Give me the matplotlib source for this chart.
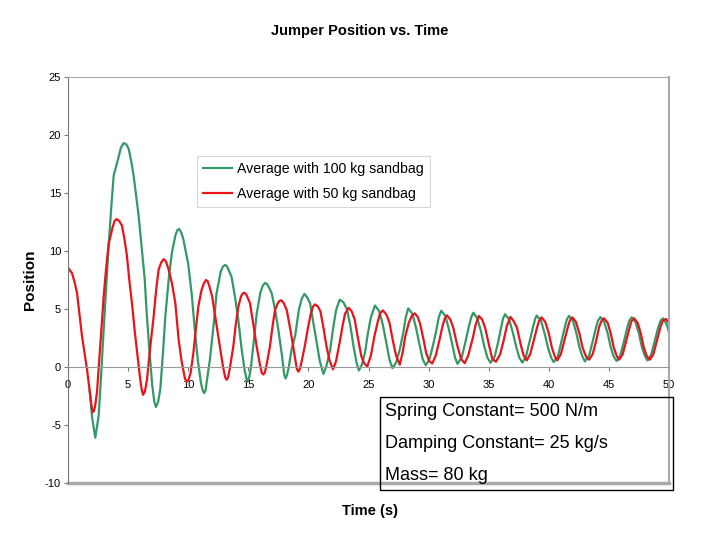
import matplotlib
matplotlib.use("Agg")
import matplotlib.pyplot as plt
from matplotlib.patches import Rectangle

plt.rcParams['font.family'] = ['Liberation Sans', 'DejaVu Sans']
plt.rcParams['axes.unicode_minus'] = False

# Average with 100 kg sandbag (green)
t_100 = [1.8, 2.0, 2.27, 2.55, 2.75, 2.97, 3.18, 3.38, 3.6, 3.8, 4.16, 4.4, 4.63, 4.85, 5.05, 5.25, 5.46, 5.65,
         5.88, 6.1, 6.38, 6.55, 6.77, 7.0, 7.18, 7.32, 7.5, 7.68, 7.9, 8.1, 8.4, 8.65, 8.95,
         9.1, 9.24, 9.42, 9.6, 10.0, 10.3, 10.55, 10.8, 11.05, 11.2, 11.33, 11.45, 11.55, 11.8, 12.1, 12.36, 12.7,
         12.88, 13.06, 13.22, 13.35, 13.6, 13.9, 14.17, 14.45, 14.7, 14.85, 14.95, 15.05, 15.2, 15.45, 15.7, 16.0,
         16.2, 16.39, 16.55, 16.7, 16.95, 17.25, 17.5, 17.8, 17.98, 18.1, 18.22, 18.35, 18.6, 18.9, 19.2, 19.45,
         19.67, 19.9, 20.14, 20.4, 20.7, 20.95, 21.25, 21.5, 21.8, 22.05, 22.3,
         22.6, 22.9, 23.2, 23.5, 23.75, 24.0, 24.2, 24.45, 24.7, 24.95, 25.2,
         25.54, 25.9, 26.2, 26.5, 26.75, 27.0, 27.3, 27.6, 27.9, 28.1,
         28.3, 28.65, 28.95, 29.25, 29.5, 29.76, 30.05, 30.35, 30.65, 30.85,
         31.05, 31.4, 31.7, 32.0, 32.2, 32.4, 32.75, 33.05, 33.35, 33.55,
         33.72, 34.05, 34.35, 34.65, 34.9, 35.15, 35.5, 35.8, 36.05, 36.2,
         36.36, 36.7, 37.0, 37.3, 37.55, 37.8, 38.1, 38.4, 38.7, 38.85,
         38.99, 39.35, 39.65, 39.95, 40.2, 40.4, 40.75, 41.05, 41.35, 41.5,
         41.68, 42.0, 42.3, 42.55, 42.8, 43.0, 43.35, 43.65, 43.95, 44.1,
         44.3, 44.6, 44.9, 45.15, 45.4, 45.64, 45.95, 46.25, 46.55, 46.7,
         46.9, 47.2, 47.5, 47.75, 48.0, 48.2, 48.5, 48.8, 49.1, 49.3,
         49.5, 49.8, 50.0]
v_100 = [-2.0, -4.3, -6.1, -4.2, -0.8, 3.3, 7.0, 10.4, 13.8, 16.5, 17.9, 18.9, 19.3, 19.2, 18.8, 17.8, 16.5, 14.9,
         13.0, 10.6, 7.6, 4.6, 1.5, -1.5, -3.0, -3.45, -3.0, -1.9, 1.2, 4.4, 7.8, 9.9, 11.4,
         11.8, 11.9, 11.6, 11.0, 8.9, 6.2, 3.2, 0.6, -1.3, -2.0, -2.25, -2.0, -1.2, 0.6, 3.5, 6.35, 8.2,
         8.65, 8.8, 8.7, 8.4, 7.8, 6.0, 4.05, 1.5, -0.3, -1.0, -1.25, -1.0, -0.2, 2.2, 4.6, 6.4,
         7.0, 7.25, 7.15, 6.9, 6.35, 4.8, 3.2, 1.0, -0.6, -1.0, -0.7, -0.1, 1.5, 2.7, 4.9, 5.9,
         6.3, 6.0, 5.5, 3.9, 2.1, 0.5, -0.6, 0.1, 1.4, 3.3, 4.9,
         5.8, 5.6, 5.0, 3.5, 1.8, 0.4, -0.3, 0.2, 1.2, 2.9, 4.3,
         5.3, 4.8, 3.6, 2.0, 0.6, -0.1, 0.4, 1.5, 3.0, 4.3,
         5.05, 4.6, 3.4, 1.9, 0.7, 0.15, 0.6, 1.8, 3.2, 4.3,
         4.85, 4.4, 3.2, 1.8, 0.8, 0.28, 0.8, 2.1, 3.5, 4.3,
         4.68, 4.2, 3.1, 1.7, 0.8, 0.36, 0.9, 2.2, 3.5, 4.2,
         4.55, 4.1, 3.0, 1.7, 0.8, 0.38, 0.9, 2.2, 3.5, 4.1,
         4.43, 4.0, 2.9, 1.6, 0.8, 0.43, 0.9, 2.2, 3.5, 4.1,
         4.4, 4.0, 2.9, 1.7, 0.9, 0.49, 0.95, 2.2, 3.5, 4.0,
         4.3, 3.9, 2.9, 1.7, 0.9, 0.52, 1.0, 2.2, 3.5, 4.0,
         4.28, 3.9, 2.9, 1.7, 0.95, 0.57, 1.0, 2.2, 3.4, 4.0,
         4.2, 3.7, 3.0]

# Average with 50 kg sandbag (red)
t_50 = [0.0, 0.33, 0.55, 0.75, 0.95, 1.16, 1.38, 1.58, 1.8, 1.95, 2.05, 2.15, 2.25, 2.41, 2.65, 2.97, 3.18, 3.38, 3.7,
        3.88, 4.05, 4.25, 4.49, 4.7, 4.9, 5.1, 5.32, 5.55, 5.82, 6.0, 6.14, 6.24, 6.4, 6.57, 6.85, 7.13, 7.35, 7.54, 7.75,
        7.96, 8.15, 8.37, 8.65, 8.93, 9.2, 9.45, 9.73, 9.88, 10.0, 10.2, 10.43, 10.64, 10.84, 11.1, 11.3,
        11.48, 11.62, 11.75, 12.0, 12.3, 12.64, 12.9, 13.08, 13.2, 13.32, 13.45, 13.75, 13.95, 14.17, 14.4, 14.55,
        14.67, 14.8, 14.9, 15.14, 15.4, 15.7, 15.95, 16.12, 16.25, 16.37, 16.5, 16.8, 17.0, 17.22, 17.45, 17.6,
        17.75, 17.95, 18.2, 18.45, 18.7, 18.9, 19.05, 19.16, 19.28, 19.4, 19.7, 19.95, 20.2, 20.38,
        20.55, 20.8, 21.0, 21.25, 21.5, 21.75, 22.05, 22.3, 22.6, 22.85, 23.05,
        23.35, 23.6, 23.85, 24.1, 24.4, 24.65, 24.9, 25.2, 25.5, 25.75, 25.95,
        26.2, 26.5, 26.75, 27.0, 27.3, 27.6, 27.85, 28.05, 28.35, 28.6,
        28.85, 29.1, 29.3, 29.55, 29.8, 30.05, 30.3, 30.6, 30.9, 31.15, 31.35,
        31.53, 31.8, 32.05, 32.35, 32.7, 33.0, 33.3, 33.7, 33.9,
        34.18, 34.45, 34.7, 35.0, 35.3, 35.6, 35.95, 36.25, 36.5,
        36.8, 37.05, 37.35, 37.65, 37.9, 38.16, 38.45, 38.75, 39.05, 39.2,
        39.4, 39.7, 40.0, 40.25, 40.5, 40.7, 41.0, 41.3, 41.6, 41.75,
        41.96, 42.25, 42.55, 42.8, 43.1, 43.35, 43.65, 43.95, 44.2, 44.4,
        44.6, 44.9, 45.15, 45.4, 45.65, 45.85, 46.15, 46.45, 46.75, 46.9,
        47.1, 47.4, 47.65, 47.9, 48.15, 48.4, 48.7, 49.0, 49.3, 49.5,
        49.75, 50.0]
v_50 = [8.56, 8.1, 7.3, 6.4, 4.6, 2.7, 1.2, -0.2, -2.0, -3.3, -3.9, -3.8, -3.4, -2.2, 1.3, 6.1, 8.6, 10.6, 12.0,
        12.6, 12.75, 12.6, 12.2, 11.0, 9.6, 7.5, 5.5, 3.1, 0.66, -1.0, -2.0, -2.4, -2.1, -1.1, 1.8, 4.4, 6.8, 8.4, 9.0,
        9.3, 9.1, 8.4, 7.2, 5.5, 2.4, 0.5, -1.0, -1.25, -1.2, -0.5, 1.2, 3.3, 5.2, 6.6, 7.2,
        7.5, 7.4, 7.0, 6.05, 4.0, 1.75, 0.0, -0.9, -1.1, -0.9, -0.2, 1.75, 3.6, 5.2, 6.1, 6.35,
        6.4, 6.3, 6.1, 5.5, 3.8, 1.75, 0.3, -0.5, -0.65, -0.5, 0.1, 1.75, 3.4, 4.9, 5.5, 5.7,
        5.75, 5.5, 4.9, 3.5, 2.0, 0.7, -0.2, -0.4, -0.2, 0.3, 1.8, 3.3, 4.6, 5.2,
        5.4, 5.2, 4.8, 3.4, 1.8, 0.6, -0.2, 0.5, 2.1, 3.6, 4.6,
        5.1, 4.8, 4.1, 2.6, 0.95, 0.3, 0.05, 1.0, 2.7, 3.8, 4.6,
        4.88, 4.5, 3.8, 2.4, 0.95, 0.2, 1.3, 2.6, 3.8, 4.4,
        4.63, 4.3, 3.7, 2.5, 1.2, 0.5, 0.3, 1.0, 2.3, 3.5, 4.2,
        4.45, 4.1, 3.4, 2.0, 0.7, 0.33, 1.0, 2.6, 3.6,
        4.4, 4.1, 3.4, 2.0, 0.7, 0.45, 1.1, 2.3, 3.5,
        4.32, 4.0, 3.4, 2.0, 1.0, 0.57, 1.1, 2.3, 3.5, 4.0,
        4.28, 3.9, 2.9, 1.7, 0.9, 0.57, 1.1, 2.3, 3.5, 4.0,
        4.28, 3.9, 2.9, 1.7, 0.9, 0.63, 1.1, 2.3, 3.5, 4.0,
        4.2, 3.8, 2.9, 1.7, 0.95, 0.63, 1.1, 2.3, 3.5, 4.0,
        4.2, 3.8, 2.9, 1.7, 0.95, 0.63, 1.1, 2.3, 3.5, 4.0,
        4.14, 3.8]

x_ticks = [0, 5, 10, 15, 20, 25, 30, 35, 40, 45, 50]
y_ticks = [-10, -5, 0, 5, 10, 15, 20, 25]
info_lines = ["Spring Constant= 500 N/m", "Damping Constant= 25 kg/s", "Mass= 80 kg"]

fig = plt.figure(figsize=(7.2, 5.4), dpi=100)
ax = fig.add_axes([68 / 720, 1 - 483 / 540, 601 / 720, 406 / 540])

ax.plot(t_100, v_100, color='#339966', lw=1.6, label='Average with 100 kg sandbag')
ax.plot(t_50, v_50, color='#E8141C', lw=1.6, label='Average with 50 kg sandbag')

ax.set_xlim(0, 50)
ax.set_ylim(-10, 25)
ax.set_xticks(x_ticks)
ax.set_yticks(y_ticks)

# x axis crosses at zero, like the Excel chart
ax.spines['bottom'].set_position(('data', 0))
ax.spines['bottom'].set_color('#999999')
ax.spines['left'].set_color('#777777')
ax.spines['top'].set_color('#aaaaaa')
ax.spines['right'].set_color('#aaaaaa')
ax.spines['right'].set_linewidth(1.5)
ax.axhline(-10, color='#aaaaaa', lw=2.5, clip_on=False)
ax.tick_params(axis='both', labelsize=8, length=3, color='#777777', pad=2)
ax.tick_params(axis='x', pad=6)

leg = ax.legend(loc='upper left', bbox_to_anchor=(197 / 720, 1 - 156 / 540), bbox_transform=fig.transFigure,
                fontsize=10.2, frameon=True, fancybox=False, borderpad=0.45, labelspacing=0.75,
                handlelength=2.0, handletextpad=0.35, borderaxespad=0)
leg.get_frame().set_edgecolor('#cccccc')
leg.get_frame().set_linewidth(0.8)

fig.text(0.5, 1 - 31 / 540, 'Jumper Position vs. Time', ha='center', va='center',
         fontsize=10.5, fontweight='bold')
fig.text(30 / 720, 1 - 280 / 540, 'Position', rotation=90, ha='center', va='center',
         fontsize=11, fontweight='bold')
fig.text(370 / 720, 1 - 511 / 540, 'Time (s)', ha='center', va='center', fontsize=10.5, fontweight='bold')

fig.patches.append(Rectangle((380 / 720, 1 - 490 / 540), 293 / 720, 93 / 540, transform=fig.transFigure,
                             fill=False, edgecolor='black', lw=1.0))
for i, line in enumerate(info_lines):
    fig.text(385 / 720, 1 - (411 + 32.5 * i) / 540, line, ha='left', va='center', fontsize=13)

fig.savefig('out.png', dpi=100)
